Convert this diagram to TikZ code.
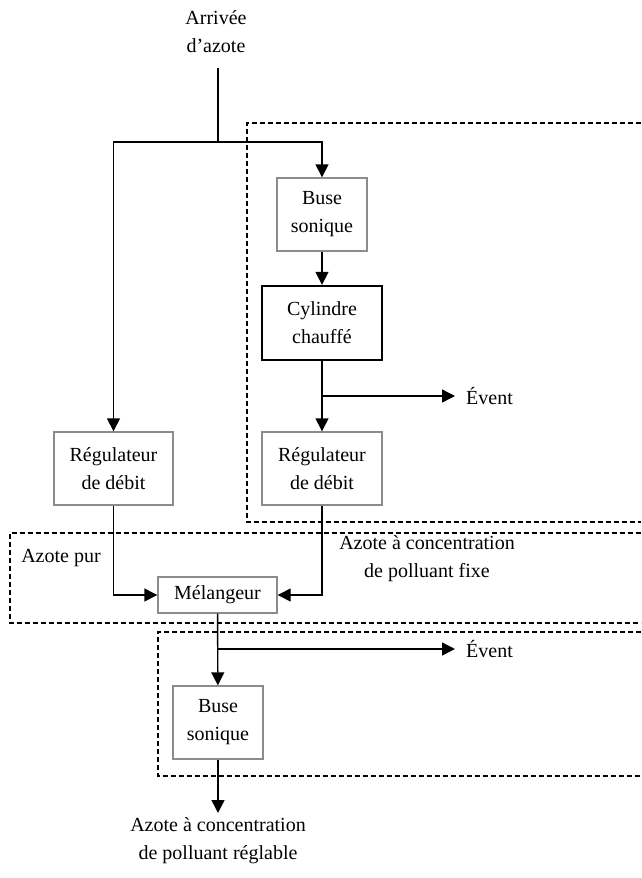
\documentclass[tikz,border=0pt]{standalone}
\usepackage{fontspec}
\setmainfont{Liberation Serif}
\usetikzlibrary{arrows.meta}
\begin{document}
\begin{tikzpicture}[x=1pt,y=-1pt,
  font=\fontsize{20}{28}\selectfont,
  box/.style={draw=black!45, line width=1.4pt, align=center, inner sep=0pt},
  thickbox/.style={draw=black, line width=2.3pt, align=center, inner sep=0pt},
  lbl/.style={align=center, inner sep=0pt},
  arr/.style={line width=1.4pt, -{Triangle[length=13pt,width=13pt]}},
  ln/.style={line width=1.4pt},
  zone/.style={line width=1.1pt, dash pattern=on 5pt off 3pt}]
\useasboundingbox (0,0) rectangle (641,878);

% zones
\draw[zone] (641,123) -| (247,522) -- (641,522);
\draw[zone] (641,533) -| (10,623) -- (641,623);
\draw[zone] (641,632) -| (158,776) -- (641,776);

% nodes
\node[lbl] (arr) at (216,32) {Arrivée\\d’azote};
\node[box, minimum width=90pt, minimum height=73pt] (buse1) at (322,214.5) {Buse\\sonique};
\node[thickbox, minimum width=120pt, minimum height=74pt] (cyl) at (322,323) {Cylindre\\chauffé};
\node[box, minimum width=120pt, minimum height=73pt] (reg2) at (322,468.5) {Régulateur\\de débit};
\node[box, minimum width=119pt, minimum height=73pt] (reg1) at (113.5,468.5) {Régulateur\\de débit};
\node[box, minimum width=119pt, minimum height=36pt] (mel) at (217.5,595) {Mélangeur};
\node[box, minimum width=90pt, minimum height=73pt] (buse2) at (218,722.5) {Buse\\sonique};
\node[lbl, anchor=west, inner xsep=11pt] (ev1) at (455,396) {Évent};
\node[lbl, anchor=west, inner xsep=11pt] (ev2) at (455,649) {Évent};
\node[lbl] (pur) at (61,558) {Azote pur};
\node[lbl] (fixe) at (427,559) {Azote à concentration\\de polluant fixe};
\node[lbl, anchor=north, inner ysep=4pt] (out) at (218,813) {Azote à concentration\\de polluant réglable};

\coordinate (in) at (218,68);
\coordinate (split) at (218,142);
\coordinate (v1) at (322,396);
\coordinate (v2) at (218,649);

% connectors
\draw[ln] (in) -- (split);
\draw[arr] (split) -| (reg1.north);
\draw[arr] (split) -| (buse1.north);
\draw[arr] (buse1) -- (cyl);
\draw[arr] (cyl) -- (reg2);
\draw[arr] (v1) -- (ev1.west);
\draw[arr] (reg1.south) |- (mel.west);
\draw[arr] (reg2.south) |- (mel.east);
\draw[arr] (mel) -- (buse2);
\draw[arr] (v2) -- (ev2.west);
\draw[arr] (buse2) -- (out.north);
\end{tikzpicture}
\end{document}
